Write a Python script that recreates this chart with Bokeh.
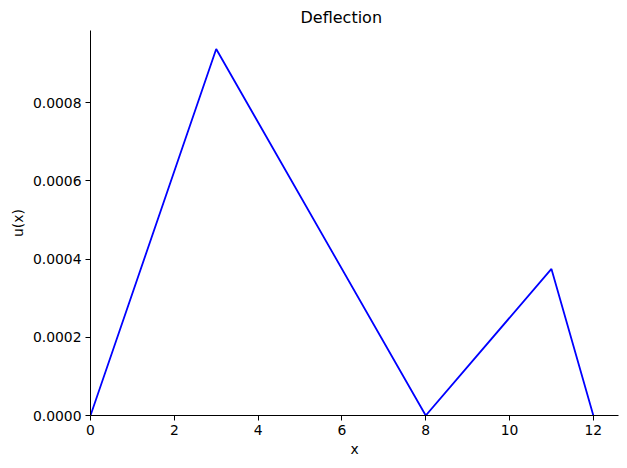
from bokeh.plotting import figure
from bokeh.models import Range1d, FixedTicker, PrintfTickFormatter
from bokeh.embed import file_html
from bokeh.resources import INLINE

x_vals = [0, 3, 8, 11, 12]
u_vals = [0.0, 0.0009375, 0.0, 0.000375, 0.0]
x_ticks = [0, 2, 4, 6, 8, 10, 12]
y_ticks = [0.0, 0.0002, 0.0004, 0.0006, 0.0008]

FONT = "DejaVu Sans"

p = figure(width=619, height=460, output_backend="svg", toolbar_location=None,
           x_range=Range1d(0, 12.6), y_range=Range1d(0, 0.000985),
           min_border_left=90, min_border_right=1, min_border_top=30, min_border_bottom=45,
           title="Deflection")
p.title.text_font = FONT
p.title.text_font_size = "16px"
p.title.text_font_style = "normal"
p.title.align = "left"
p.title.offset = 210
p.title.text_color = "black"
p.title.standoff = 8

p.outline_line_color = None
p.xgrid.visible = False
p.ygrid.visible = False
p.background_fill_color = "white"
p.border_fill_color = "white"

p.line(x_vals, u_vals, line_color="#0000ff", line_width=1.8)

for ax in (p.xaxis[0], p.yaxis[0]):
    ax.axis_line_color = "black"
    ax.axis_line_width = 1
    ax.major_tick_line_color = "black"
    ax.major_tick_in = 0
    ax.major_tick_out = 5
    ax.minor_tick_line_color = None
    ax.major_label_text_font = FONT
    ax.major_label_text_font_size = "13.9px"
    ax.major_label_text_color = "black"
    ax.axis_label_text_font = FONT
    ax.axis_label_text_font_size = "13.9px"
    ax.axis_label_text_font_style = "normal"
    ax.axis_label_text_color = "black"

p.xaxis[0].ticker = FixedTicker(ticks=x_ticks)
p.yaxis[0].ticker = FixedTicker(ticks=y_ticks)
p.yaxis[0].formatter = PrintfTickFormatter(format="%.4f")
p.xaxis[0].axis_label = "x"
p.yaxis[0].axis_label = "u(x)"
p.xaxis[0].major_label_standoff = 4
p.yaxis[0].major_label_standoff = 4
p.xaxis[0].axis_label_standoff = 3
p.yaxis[0].axis_label_standoff = 4

open("out.html", "w").write(file_html(p, INLINE))
